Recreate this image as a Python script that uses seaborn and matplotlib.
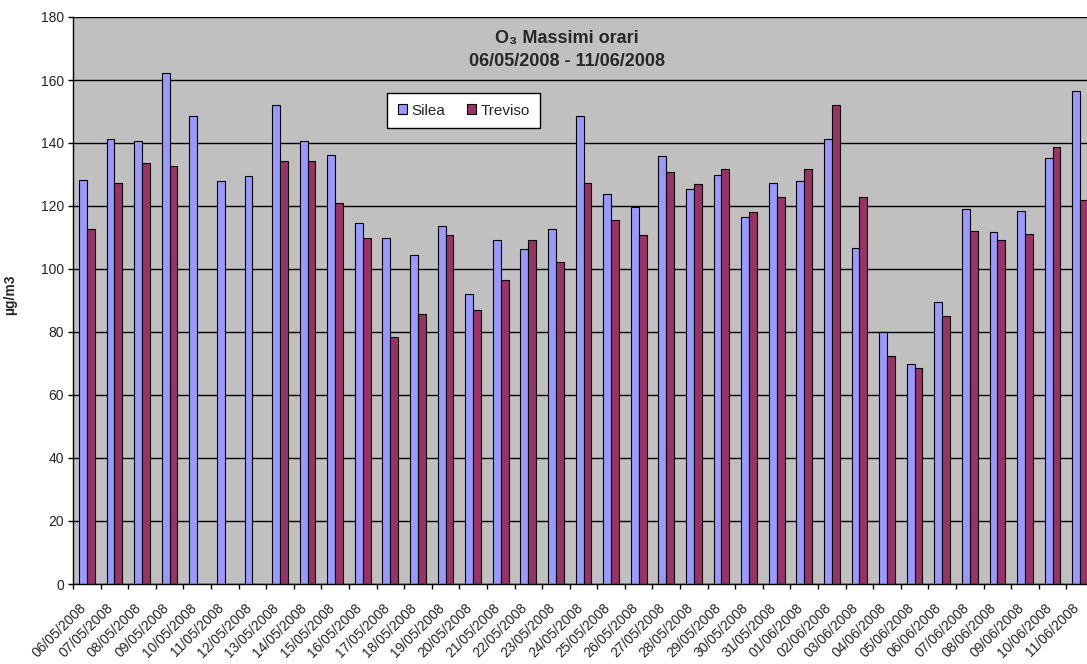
import pandas as pd
import matplotlib
matplotlib.use("Agg")
import matplotlib.pyplot as plt
import seaborn as sns
from matplotlib.ticker import FixedLocator
from matplotlib.transforms import ScaledTranslation

dates = ["06/05/2008", "07/05/2008", "08/05/2008", "09/05/2008", "10/05/2008",
         "11/05/2008", "12/05/2008", "13/05/2008", "14/05/2008", "15/05/2008",
         "16/05/2008", "17/05/2008", "18/05/2008", "19/05/2008", "20/05/2008",
         "21/05/2008", "22/05/2008", "23/05/2008", "24/05/2008", "25/05/2008",
         "26/05/2008", "27/05/2008", "28/05/2008", "29/05/2008", "30/05/2008",
         "31/05/2008", "01/06/2008", "02/06/2008", "03/06/2008", "04/06/2008",
         "05/06/2008", "06/06/2008", "07/06/2008", "08/06/2008", "09/06/2008",
         "10/06/2008", "11/06/2008"]

silea = [128.3, 141.2, 140.6, 162.3, 148.6, 127.9, 129.4, 152.0, 140.6, 136.3,
         114.6, 109.7, 104.3, 113.7, 92.0, 109.2, 106.3, 112.6, 148.5, 123.9,
         119.6, 135.8, 125.4, 129.8, 116.5, 127.4, 127.9, 141.2, 106.8, 79.9,
         69.8, 89.5, 118.9, 111.6, 118.5, 135.1, 156.4]

treviso = [112.6, 127.4, 133.8, 132.8, None, None, None, 134.3, 134.3, 121.0,
           109.7, 78.5, 85.6, 110.7, 87.0, 96.4, 109.2, 102.2, 127.4, 115.6,
           110.7, 130.8, 127.0, 131.7, 118.1, 123.0, 131.7, 152.0, 122.9, 72.3,
           68.5, 85.1, 112.2, 109.2, 111.1, 138.7, 121.9]

stations = ["Silea", "Treviso"]
colors = {"Silea": "#9999FF", "Treviso": "#993366"}

df = pd.DataFrame({"Data": dates, "Silea": silea, "Treviso": treviso})
df = df.melt(id_vars="Data", var_name="Stazione", value_name="valore").dropna()

sns.set_style("white")
plt.rcParams["font.family"] = ["Liberation Sans", "DejaVu Sans"]

fig = plt.figure(figsize=(10.87, 6.64), dpi=100)
# plot area runs past the right edge of the image, like the reference
ax = fig.add_axes([73 / 1087, 1 - 584 / 664, 1021 / 1087, 567 / 664])
ax.set_facecolor("#C0C0C0")

sns.barplot(data=df, x="Data", y="valore", hue="Stazione", order=dates,
            hue_order=stations, palette=colors, width=0.57,
            edgecolor="black", linewidth=0.8, saturation=1, ax=ax)

ax.set_xlim(-0.5, len(dates) - 0.5)
ax.set_ylim(0, 180)
ax.set_yticks(range(0, 181, 20))
ax.yaxis.grid(True, color="black", linewidth=1)
ax.set_axisbelow(True)
for s in ["top", "right"]:
    ax.spines[s].set_visible(False)
ax.spines["left"].set_color("black")
ax.spines["bottom"].set_color("black")
ax.spines["left"].set_linewidth(1)
ax.spines["bottom"].set_linewidth(1)

ax.tick_params(axis="y", direction="out", length=3.6, width=1, color="black",
               labelsize=10, pad=3, left=True)
ax.tick_params(axis="x", which="major", length=0, labelsize=10, pad=12)
ax.xaxis.set_minor_locator(FixedLocator([i - 0.5 for i in range(len(dates) + 1)]))
ax.tick_params(axis="x", which="minor", direction="out", length=3.6, width=1,
               color="black", bottom=True)
shift = ScaledTranslation(-0.08, 0, fig.dpi_scale_trans)
for lab in ax.get_xticklabels():
    lab.set_rotation(45)
    lab.set_ha("right")
    lab.set_rotation_mode("anchor")
    lab.set_transform(lab.get_transform() + shift)

ax.set_xlabel("")
ax.set_ylabel("µg/m3", fontsize=10, fontweight="bold")
ax.yaxis.set_label_coords(-56 / 1021, 0.51)

fig.text(567 / 1087, 1 - 38 / 664, "O₃ Massimi orari", ha="center", va="center",
         fontsize=13, fontweight="bold")
fig.text(567 / 1087, 1 - 62 / 664, "06/05/2008 - 11/06/2008", ha="center",
         va="center", fontsize=13, fontweight="bold")

handles, labels = ax.get_legend_handles_labels()
ax.legend(handles, labels, loc="upper left", bbox_to_anchor=(387 / 1087, 1 - 93 / 664),
          bbox_transform=fig.transFigure, ncol=2, frameon=True, fancybox=False,
          edgecolor="black", framealpha=1, fontsize=11, handlelength=0.6,
          handleheight=0.6, handletextpad=0.3, columnspacing=1.4,
          borderaxespad=0, borderpad=0.7)
ax.get_legend().get_frame().set_linewidth(1)

fig.savefig("out.png", dpi=100, facecolor="white")
